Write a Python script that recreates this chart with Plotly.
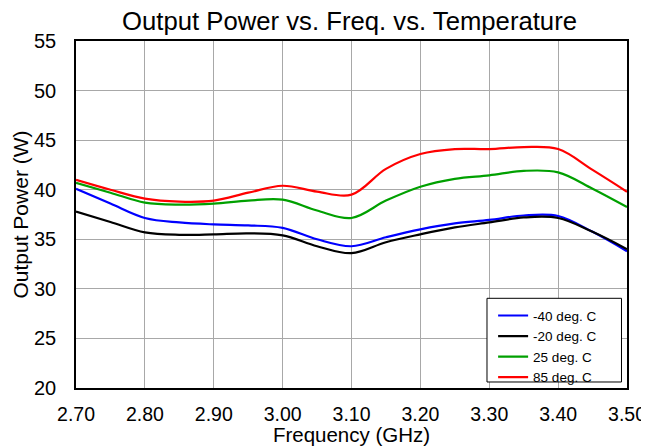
import plotly.graph_objects as go

freq = [2.70, 2.75, 2.80, 2.85, 2.90, 2.95, 3.00, 3.05, 3.10, 3.15, 3.20, 3.25, 3.30, 3.35, 3.40, 3.45, 3.50]
p_m40 = [40.1, 38.6, 37.15, 36.7, 36.5, 36.4, 36.15, 35.0, 34.3, 35.2, 36.0, 36.6, 36.95, 37.4, 37.35, 35.75, 33.8]
p_m20 = [37.8, 36.75, 35.7, 35.45, 35.5, 35.6, 35.4, 34.3, 33.6, 34.7, 35.5, 36.2, 36.7, 37.2, 37.15, 35.75, 34.0]
p_25 = [40.7, 39.7, 38.7, 38.5, 38.6, 38.9, 39.0, 37.9, 37.15, 38.9, 40.3, 41.1, 41.45, 41.9, 41.75, 40.1, 38.25]
p_85 = [41.0, 40.0, 39.1, 38.8, 38.9, 39.7, 40.4, 39.8, 39.5, 42.1, 43.6, 44.1, 44.1, 44.3, 44.1, 42.0, 39.8]

series_names = ["-40 deg. C", "-20 deg. C", "25 deg. C", "85 deg. C"]
series_vals = [p_m40, p_m20, p_25, p_85]
series_colors = ["#0000ff", "#000000", "#00a000", "#ff0000"]

x_ticks = [2.7, 2.8, 2.9, 3.0, 3.1, 3.2, 3.3, 3.4, 3.5]
y_ticks = [20, 25, 30, 35, 40, 45, 50, 55]

FONT = "Arial, Liberation Sans, sans-serif"

fig = go.Figure()
for name, vals, col in zip(series_names, series_vals, series_colors):
    fig.add_trace(go.Scatter(x=freq, y=vals, name=name, mode="lines",
                             line=dict(color=col, width=2.2, shape="spline", smoothing=1.0)))

# legend frame
fig.add_shape(type="rect", xref="paper", yref="paper",
              x0=0.7459, x1=0.990, y0=0.0173, y1=0.2585,
              line=dict(color="black", width=1), fillcolor="white", layer="above")

# page body has an 8px margin, so the figure is sized to the visible area
fig.update_layout(
    width=641, height=438,
    margin=dict(l=68, r=22, t=33, b=58),
    paper_bgcolor="white", plot_bgcolor="white",
    font=dict(family=FONT, color="black"),
    title=dict(text="Output Power vs. Freq. vs. Temperature", x=0.5328, xref="container",
               xanchor="center", y=0.97, yref="container", yanchor="middle",
               font=dict(size=25.7, family=FONT, color="black")),
    legend=dict(x=0.757, y=0.253, xanchor="left", yanchor="top",
                bgcolor="rgba(0,0,0,0)", borderwidth=0,
                font=dict(size=13.5, family=FONT, color="black"),
                tracegroupgap=0, itemwidth=30),
    showlegend=True,
)
fig.update_xaxes(range=[2.70, 3.50], tickvals=x_ticks, tickformat=".2f", automargin=False,
                 showgrid=True, gridcolor="#a8a8a8", gridwidth=1,
                 showline=True, linecolor="black", linewidth=1.5, mirror=True,
                 ticks="", ticklabelstandoff=8, zeroline=False,
                 tickfont=dict(size=19.5, family=FONT, color="black"),
                 title=dict(text="Frequency (GHz)", standoff=11,
                            font=dict(size=20.5, family=FONT, color="black")))
fig.update_yaxes(range=[20, 55], tickvals=y_ticks, automargin=False,
                 showgrid=True, gridcolor="#a8a8a8", gridwidth=1,
                 showline=True, linecolor="black", linewidth=1.5, mirror=True,
                 ticks="", ticklabelstandoff=14, zeroline=False,
                 tickfont=dict(size=20, family=FONT, color="black"),
                 title=dict(text="Output Power (W)", standoff=0,
                            font=dict(size=21, family=FONT, color="black")))

fig.write_html("out.html")
